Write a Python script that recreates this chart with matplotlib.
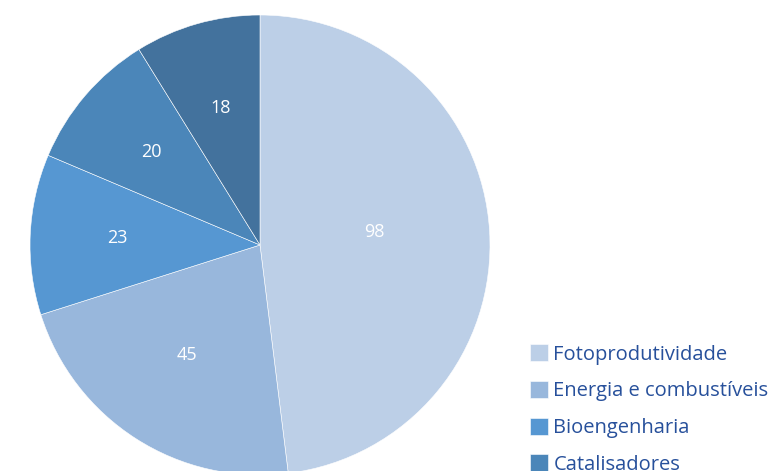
import numpy as np
import matplotlib.pyplot as plt

# ── Data ────────────────────────────────────────────────
labels = ["Fotoprodutividade", "Energia e combustíveis", "Bioengenharia", "Catalisadores", ""]
values = [98, 45, 23, 20, 18]
colors = ["#bccfe7", "#98b7dc", "#5697d2", "#4b86b9", "#43729d"]

plt.rcParams["font.family"] = ["Open Sans", "DejaVu Sans"]

fig = plt.figure(figsize=(7.83, 4.71), dpi=100)
ax = fig.add_axes([30 / 783, -4 / 471, 460 / 783, 460 / 471])

wedges, texts, autotexts = ax.pie(
    values,
    colors=colors,
    startangle=90,
    counterclock=False,
    radius=1,
    autopct=lambda p: f"{p * sum(values) / 100:.0f}",
    pctdistance=0.62,
    wedgeprops=dict(edgecolor="white", linewidth=0.4),
    textprops=dict(color="white", fontsize=13),
)
# first label sits a bit closer to the centre
x, y = autotexts[0].get_position()
autotexts[0].set_position((x * 0.8, y + 0.02))
x, y = autotexts[1].get_position()
autotexts[1].set_position((x * 0.95, y * 0.92))

ax.set_xlim(-1, 1)
ax.set_ylim(-1, 1)
ax.set_aspect("equal")
ax.axis("off")

# the last legend row is clipped by the bottom edge, as in the original
leg = fig.legend(
    wedges[:4],
    labels[:4],
    loc="upper left",
    bbox_to_anchor=(512 / 783, 1 - 326 / 471),
    frameon=False,
    fontsize=14.5,
    handlelength=0.9,
    handleheight=0.95,
    handletextpad=0.25,
    labelspacing=0.8,
)
for t in leg.get_texts():
    t.set_color("#27509b")

plt.savefig("out.png", dpi=100)
plt.close()
